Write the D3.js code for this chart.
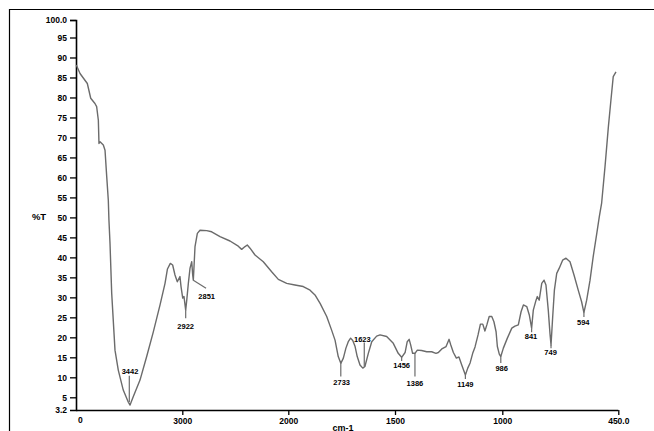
<!DOCTYPE html>
<html><head><meta charset="utf-8">
<script src="https://cdn.jsdelivr.net/npm/d3@7"></script>
<style>
html,body{margin:0;padding:0;background:#fff;overflow:hidden;}
svg{display:block;font-family:"Liberation Sans",Arial,sans-serif;}
</style></head><body>
<svg id="chart" width="654" height="431"></svg>
<script>
// ---- data (wavenumber cm-1, %T) ----
const wavenumber = [4000,3965,3896,3864,3824,3808,3792,3786,3776,3745,3729,3713,3698,3692,3682,3666,3635,3604,3557,3509,3493,3462,3399,3336,3274,3210,3163,3140,3113,3091,3069,3047,3022,3012,2996,2984,2968,2958,2943,2927,2911,2902,2896,2880,2858,2833,2770,2723,2644,2550,2472,2440,2408,2387,2361,2314,2236,2157,2094,2015,1969,1930,1898,1875,1851,1820,1797,1781,1766,1754,1742,1730,1719,1708,1698,1687,1677,1664,1651,1641,1625,1609,1586,1570,1539,1508,1485,1469,1453,1443,1434,1427,1418,1407,1396,1376,1352,1329,1309,1298,1282,1262,1248,1240,1228,1214,1202,1189,1172,1161,1150,1138,1127,1113,1102,1091,1081,1071,1061,1049,1039,1029,1023,1014,1007,995,976,955,940,924,911,900,884,872,861,853,840,834,825,813,802,793,782,774,769,761,753,742,730,714,698,679,660,640,624,613,600,584,569,552,540,529,513,497,485,474,461];
const transmittance = [88.1,86.0,83.5,79.8,78.5,77.7,74.3,68.5,68.9,68.1,66.8,60.2,54.3,49.3,43.5,31.0,16.8,11.8,6.8,4.3,3.9,5.2,9.3,15.2,21.3,28.1,33.5,37.1,38.5,38.1,35.6,33.9,35.2,32.7,29.8,30.2,26.8,29.3,33.5,37.3,38.9,35.6,34.3,42.7,46.0,46.8,46.7,46.4,45.2,44.1,42.8,42.0,42.7,43.1,42.3,40.6,38.9,36.4,34.5,33.5,33.1,32.7,31.8,30.6,28.5,25.2,21.8,19.3,15.2,13.5,14.8,17.3,18.9,19.8,19.2,17.7,15.2,13.1,12.3,12.7,16.0,18.9,20.3,20.6,20.2,18.5,16.0,15.0,16.2,18.9,19.5,18.1,16.0,16.0,16.8,16.7,16.4,16.4,16.0,16.2,17.1,17.7,19.5,18.1,16.2,14.8,15.1,13.1,10.6,12.3,13.6,16.0,17.6,20.6,23.3,23.3,21.6,23.3,25.2,25.2,23.9,21.4,17.7,15.8,15.2,17.3,19.8,22.3,22.8,23.1,26.4,28.1,27.7,25.6,22.3,26.8,29.3,30.2,29.3,33.5,34.3,33.1,26.8,21.0,18.1,25.2,31.8,36.0,37.3,39.3,39.8,38.9,35.6,31.8,28.9,26.2,29.3,34.3,40.2,46.0,50.2,53.6,62.7,72.7,79.3,85.2,86.4];

// axis ticks
const xTickValues = [4000,3000,2000,1500,1000,450];
const xTickLabels = ["0","3000","2000","1500","1000","450.0"];
const yTickValues = [3.2,5,10,15,20,25,30,35,40,45,50,55,60,65,70,75,80,85,90,95,100];
const yTickLabels = ["3.2","5","10","15","20","25","30","35","40","45","50","55","60","65","70","75","80","85","90","95","100.0"];

// peak annotations (data coordinates)
const peakText   = ["3442","2922","2851","2733","1623","1456","1386","1149","986","841","749","594"];
const peakW      = [3500,2968,2896,1754,1644,1469,1407,1172,1007,861,769,613];
const peakT      = [4.3,26.8,34.3,13.5,12.7,15.0,16.0,10.6,15.2,22.3,18.1,26.2];
const leadW      = [3500,2968,2776,1754,1644,1469,1407,1172,1007,861,769,613];
const leadT      = [10.4,24.8,32.3,10.2,18.7,14.1,10.2,9.6,13.6,21.3,17.3,25.1];
const labelW     = [3493,2968,2770,1750,1653,1469,1407,1172,1003,864,771,616];
const labelT     = [10.9,22.1,29.6,8.0,18.8,12.3,7.8,7.7,11.6,19.6,15.6,23.1];

const xLabel = "cm-1";
const yLabel = "%T";

// ---- drawing ----
const svg = d3.select("#chart");
const x = d3.scaleLinear().domain([4000,3000,2000,1500,1000,450]).range([76.3,182.3,288.3,395,502.3,618.3]);
const y = d3.scaleLinear().domain([3.2,5,95,100]).range([410,397.3,37.5,20]);

// outer frame
svg.append("path").attr("d","M9.5,440V9.5H660").attr("fill","none").attr("stroke","#000").attr("stroke-width",1.2);

// x axis
const xAxis = d3.axisBottom(x).tickValues(xTickValues.slice(1)).tickSizeOuter(0).tickSize(5).tickPadding(3)
  .tickFormat((d)=>xTickLabels[xTickValues.indexOf(d)]);
const gx = svg.append("g").attr("transform","translate(0,410)").call(xAxis);
gx.select(".domain").attr("d",`M${x(4000)},0.5H${x(450)}`).attr("stroke-width",1.6);
gx.selectAll(".tick line").attr("stroke-width",1.3);
gx.selectAll("text").attr("font-size",8.5).attr("font-weight","bold").attr("font-family","Liberation Sans, Arial");
svg.append("text").attr("x",x(4000)+4).attr("y",423).attr("text-anchor","middle")
  .attr("font-size",8.5).attr("font-weight","bold").attr("fill","#000").text(xTickLabels[0]);

// y axis
const yAxis = d3.axisLeft(y).tickValues(yTickValues).tickSizeOuter(0).tickSize(6).tickPadding(3)
  .tickFormat((d)=>yTickLabels[yTickValues.indexOf(d)]);
const gy = svg.append("g").attr("transform","translate(76,0)").call(yAxis);
gy.select(".domain").attr("stroke-width",1.6);
gy.selectAll(".tick line").attr("stroke-width",1.3);
gy.selectAll(".tick").filter(d=>d===3.2).select("line").remove();
gy.selectAll("text").attr("font-size",8.5).attr("font-weight","bold").attr("font-family","Liberation Sans, Arial");

// axis titles
svg.append("text").attr("x",39).attr("y",220).attr("text-anchor","middle")
  .attr("font-size",9.5).attr("font-weight","bold").text(yLabel);
svg.append("text").attr("x",343).attr("y",430.5).attr("text-anchor","middle")
  .attr("font-size",9).attr("font-weight","bold").text(xLabel);

// spectrum
const pts = wavenumber.map((w,i)=>[w,transmittance[i]]);
svg.append("path").datum(pts)
  .attr("d", d3.line().x(d=>x(d[0])).y(d=>y(d[1])))
  .attr("fill","none").attr("stroke","#6b6b6b").attr("stroke-width",1.4).attr("stroke-linejoin","round");

// peak leaders and labels
const ann = svg.append("g");
peakText.forEach((t,i)=>{
  ann.append("line").attr("x1",x(peakW[i])).attr("y1",y(peakT[i])).attr("x2",x(leadW[i])).attr("y2",y(leadT[i]))
    .attr("stroke","#6b6b6b").attr("stroke-width",1.2);
  ann.append("text").attr("x",x(labelW[i])).attr("y",y(labelT[i])).attr("text-anchor","middle")
    .attr("font-size",7.5).attr("font-weight","bold").attr("fill","#000").text(t);
});
</script>
</body></html>
